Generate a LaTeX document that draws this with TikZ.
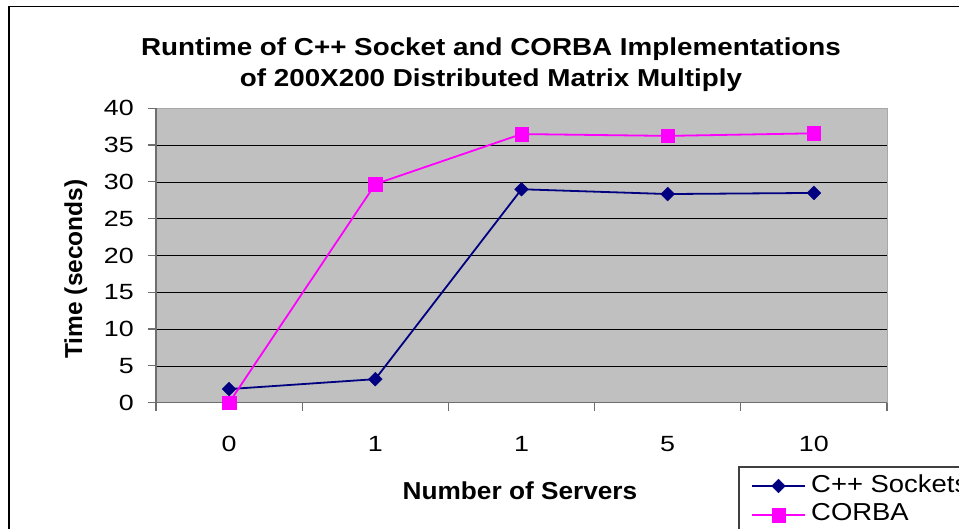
\documentclass[tikz,border=0pt]{standalone}
\usepackage{graphicx}
\usepackage{fontspec}
\setmainfont{Liberation Sans}
\usetikzlibrary{positioning,shapes.geometric}
\definecolor{navy}{RGB}{0,0,128}
\definecolor{pink}{RGB}{255,0,255}
\definecolor{plotgray}{RGB}{192,192,192}
\definecolor{axisgray}{RGB}{110,110,110}
\newcommand{\wide}[2]{\scalebox{#1}[1]{#2}}

\begin{document}
\begin{tikzpicture}[x=1pt,y=-1pt,
 lbl/.style={inner sep=0pt,font=\fontsize{22}{26}\selectfont},
 ttl/.style={inner sep=0pt,anchor=base,font=\fontsize{24.5}{30}\selectfont\bfseries},
 axt/.style={inner sep=0pt,anchor=base,font=\fontsize{24.5}{30}\selectfont\bfseries},
 leg/.style={inner sep=0pt,anchor=west,font=\fontsize{24.5}{30}\selectfont},
 dia/.style={diamond,draw=navy,fill=navy,inner sep=0pt,minimum width=14,minimum height=14},
 sq/.style={rectangle,draw=pink,fill=pink,inner sep=0pt,minimum size=13.5},
 sline/.style={draw=navy,line width=1.8},
 cline/.style={draw=pink,line width=1.8}]
\useasboundingbox (0,0) rectangle (959,529);
\fill[white] (0,0) rectangle (959,529);
% chart frame
\draw[line width=1.6] (9,529) |- (959,6.5);
\node[ttl] (title) at (491,55.5) {\wide{1.135}{Runtime of C++ Socket and CORBA Implementations}};
\node[ttl] (title2) at (491,87) {\wide{1.135}{of 200X200 Distributed Matrix Multiply}};
% plot area
\fill[plotgray] (156,108.3) rectangle (887,402.7);
\draw[axisgray!60] (156,108.3) -| (887,402.7);
\foreach \v in {5,10,...,35}
  \draw[black] (156,{402.7-7.36*\v}) -- (887,{402.7-7.36*\v});
\draw[axisgray,line width=1.2] (156,108.3) -- (156,402.7) -- (887,402.7);
\foreach \v in {0,5,...,40}{
  \draw[axisgray,line width=1.2] (148,{402.7-7.36*\v}) -- (156,{402.7-7.36*\v});
  \node[lbl,anchor=east] at (134,{402.7-7.36*\v}) {\wide{1.22}{\v}};}
\foreach \i in {0,...,5}
  \draw[axisgray,line width=1.2] ({156+146.2*\i},402.7) -- ({156+146.2*\i},411);
\foreach \t [count=\i from 0] in {0,1,1,5,10}
  \node[lbl] (x\i) at ({229.1+146.2*\i},444) {\wide{1.22}{\t}};
\node[axt] (xt) at (520,499) {\wide{1.07}{Number of Servers}};
\node[axt,rotate=90] (yt) at (82,269) {Time (seconds)};
% C++ sockets
\foreach \v [count=\i from 0] in {1.85,3.2,29.0,28.35,28.5}
  \coordinate (s\i) at ({229.1+146.2*\i},{402.7-7.36*\v});
\draw[sline] (s0)--(s1)--(s2)--(s3)--(s4);
% CORBA
\foreach \v [count=\i from 0] in {0,29.7,36.5,36.25,36.6}
  \coordinate (c\i) at ({229.1+146.2*\i},{402.7-7.36*\v});
\draw[cline] (c0)--(c1)--(c2)--(c3)--(c4);
\foreach \i in {0,...,4}{
  \node[dia] at (s\i) {};
  \node[sq] at (c\i) {};}
% legend
\draw[line width=1.2,black!75] (739,467) rectangle (990,545);
\draw[sline] (752,486) -- (805,486);
\node[dia] (ls) at (778.5,486) {};
\node[leg] (lst) at (811,484) {\wide{1.12}{C++ Sockets}};
\draw[cline] (752,515) -- (805,515);
\node[sq] (lc) at (778.5,515) {};
\node[leg] (lct) at (811,512.5) {\wide{1.12}{CORBA}};
\end{tikzpicture}
\end{document}
